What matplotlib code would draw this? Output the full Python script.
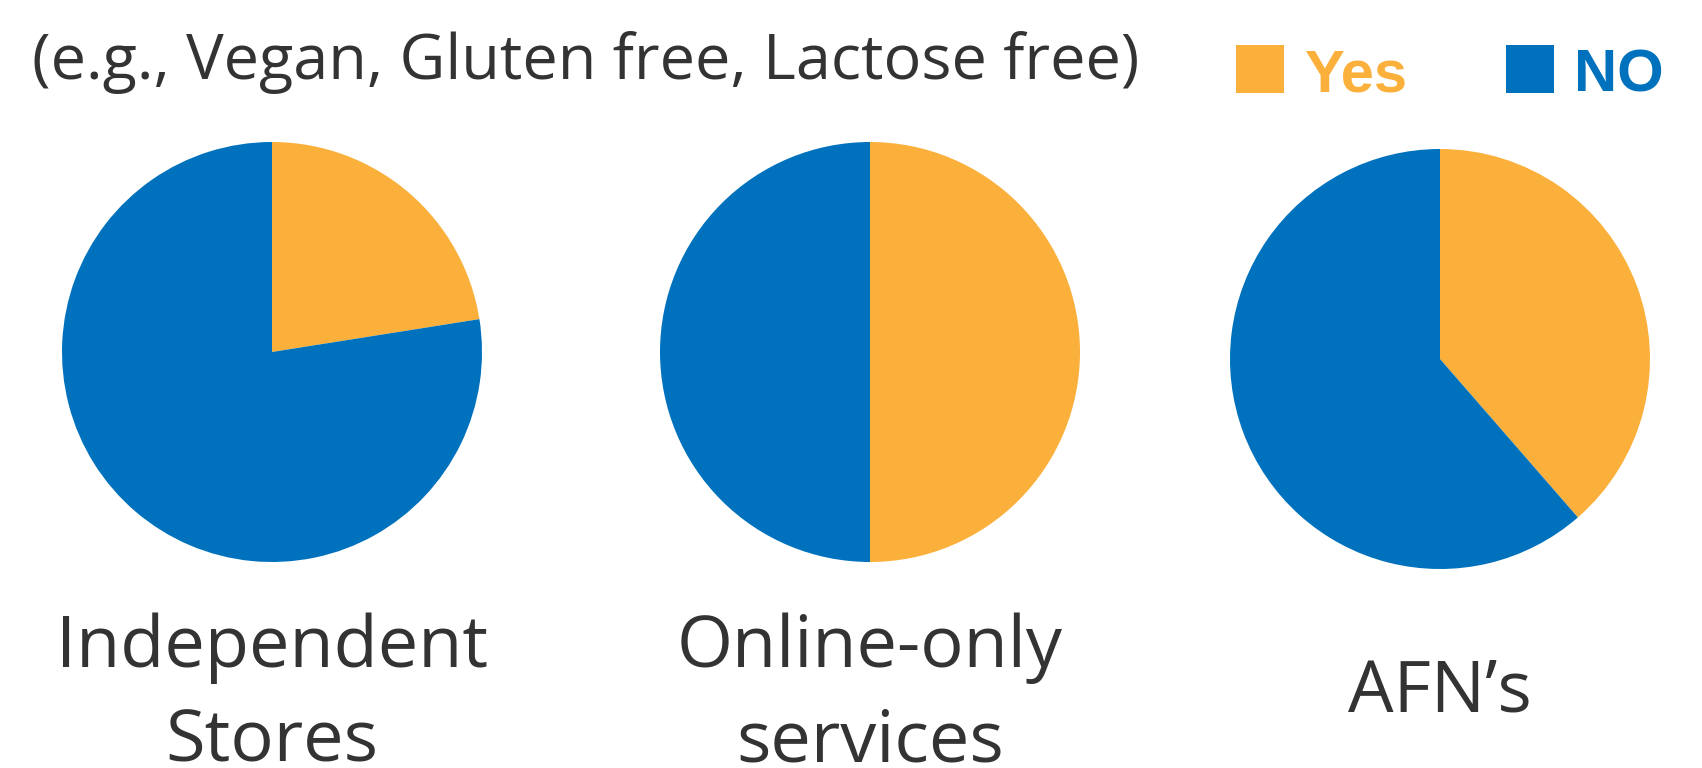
import matplotlib
matplotlib.use("Agg")
import matplotlib.pyplot as plt
from matplotlib.patches import Rectangle

# --- data ---
title = "(e.g., Vegan, Gluten free, Lactose free)"
channels = ["Independent\nStores", "Online-only\nservices", "AFN\u2019s"]
yes_share = [22.5, 50.0, 38.6]
no_share = [77.5, 50.0, 61.4]
answer_labels = ["Yes", "NO"]

YES_COLOR = "#FBB03B"
NO_COLOR = "#0071BC"
TEXT_COLOR = "#333333"

W, H = 1702, 768
pie_x = [272, 870, 1440]
pie_y = [352, 352, 359]  # from top, pixels
radius = 210

fig = plt.figure(figsize=(W / 100, H / 100), dpi=100)
ax = fig.add_axes([0, 0, 1, 1])

for i, (yes, no) in enumerate(zip(yes_share, no_share)):
    ax.pie([yes, no], colors=[YES_COLOR, NO_COLOR], startangle=90, counterclock=False,
           center=(pie_x[i], H - pie_y[i]), radius=radius,
           wedgeprops=dict(linewidth=0))

ax.set_xlim(0, W)
ax.set_ylim(0, H)
ax.axis("off")

renderer = fig.canvas.get_renderer()


def fit_size(text_obj, target_w):
    # scale the font so the text is as wide as in the reference
    w = text_obj.get_window_extent(renderer).width
    text_obj.set_fontsize(text_obj.get_fontsize() * target_w / w)
    return text_obj.get_fontsize()


# title
t = ax.text(32, H - 79, title, fontsize=40, family="Open Sans", color=TEXT_COLOR,
            ha="left", va="baseline")
fit_size(t, 1105)

# legend squares + labels
leg_x = [1236, 1506]
for lx, lab, col in zip(leg_x, answer_labels, [YES_COLOR, NO_COLOR]):
    ax.add_patch(Rectangle((lx, H - 93), 48, 48, facecolor=col, edgecolor="none"))
    ax.text(lx + 68, H - 91, lab, fontsize=43, family="Liberation Sans", fontweight="bold",
            color=col, ha="left", va="baseline")

# channel labels under the pies
probe = ax.text(0, 0, "Independent", fontsize=50, family="Open Sans")
label_size = fit_size(probe, 433)
probe.remove()

for i, name in enumerate(channels):
    lines = name.split("\n")
    if len(lines) == 2:
        baselines = [667, 762]
    else:
        baselines = [712]
    for line, b in zip(lines, baselines):
        ax.text(pie_x[i], H - b, line, fontsize=label_size, family="Open Sans",
                color=TEXT_COLOR, ha="center", va="baseline")

fig.savefig("out.png", dpi=100)
